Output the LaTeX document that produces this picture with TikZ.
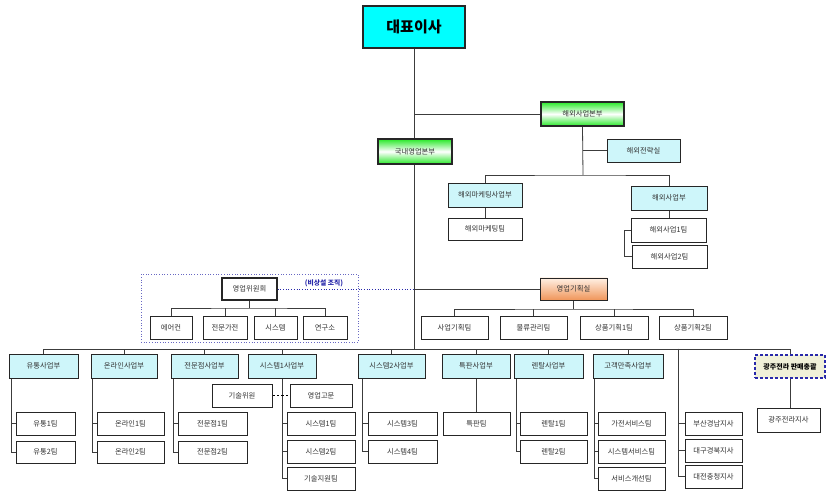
\documentclass[tikz,border=0pt]{standalone}
\usepackage{fontspec}
\setmainfont{Noto Sans CJK KR}
\usetikzlibrary{backgrounds,calc}
\definecolor{ceocyan}{RGB}{0,255,255}
\definecolor{lcyan}{RGB}{206,246,250}
\definecolor{lgreen}{RGB}{40,232,40}
\definecolor{lorange}{RGB}{240,150,90}
\definecolor{lpeach}{RGB}{255,240,228}
\definecolor{lbeige}{RGB}{240,240,216}
\definecolor{navy}{RGB}{40,40,170}
\definecolor{linec}{RGB}{60,60,60}
\definecolor{textc}{RGB}{50,50,50}
\tikzset{
  orgbase/.style={draw=black!85, line width=0.9pt, inner sep=0pt, font=\fontsize{7.3}{8}\selectfont, text=textc},
  plainbox/.style={orgbase, fill=white},
  cyanbox/.style={orgbase, fill=lcyan},
  ceobox/.style={orgbase, fill=ceocyan, line width=1.3pt, text=black, font=\fontsize{15}{17}\selectfont\bfseries},
  greenbox/.style={orgbase, line width=1.3pt, top color=lgreen, bottom color=lgreen, middle color=white},
  orangebox/.style={orgbase, top color=lpeach, bottom color=lorange},
  thickbox/.style={orgbase, fill=white, line width=1.3pt},
  dashbox/.style={orgbase, fill=lbeige, draw=navy, line width=1.2pt, dash pattern=on 3pt off 2pt, text=black, font=\fontsize{7}{8}\selectfont\bfseries},
  framebox/.style={draw=navy!70, line width=0.7pt, dotted, inner sep=0pt},
  conn/.style={draw=linec, line width=0.8pt},
  dotconn/.style={draw=navy, line width=0.7pt, dotted},
  dashconn/.style={draw=black, line width=0.8pt, dash pattern=on 2.5pt off 2pt},
  notelabel/.style={text=navy, font=\fontsize{6.8}{8}\selectfont\bfseries, inner sep=0pt}
}
\newcommand{\orgbox}[7]{\node[#1, minimum width={(#5-#4)*1pt}, minimum height={(#7-#6)*1pt}] (#2) at ({(#4+#5)/2},{(#6+#7)/2}) {#3};}
\begin{document}
\begin{tikzpicture}[x=1pt,y=-1pt]
\useasboundingbox (0,0) rectangle (831,494);
% top
\orgbox{ceobox}{ceo}{대표이사}{363}{465}{6}{48}
\orgbox{greenbox}{overseas}{해외사업본부}{541}{624}{102}{126}
\orgbox{greenbox}{domestic}{국내영업본부}{378}{452}{139}{164}
\orgbox{cyanbox}{strategy}{해외전략실}{607}{680}{139}{162}
\orgbox{cyanbox}{ovmkt}{해외마케팅사업부}{448}{522}{183}{207}
\orgbox{cyanbox}{ovbiz}{해외사업부}{631}{707}{186}{210}
\orgbox{plainbox}{ovmktteam}{해외마케팅팀}{448}{522}{218}{240}
\orgbox{plainbox}{ov1}{해외사업1팀}{631}{706}{218}{242}
\orgbox{plainbox}{ov2}{해외사업2팀}{632}{707}{245}{268}
% committee
\orgbox{framebox}{cframe}{}{141}{358}{274}{342}
\orgbox{thickbox}{comm}{영업위원회}{222}{277}{278}{300}
\node[notelabel] (note) at (324,283) {(비상설 조직)};
\orgbox{plainbox}{aircon}{에어컨}{150}{192}{316}{339}
\orgbox{plainbox}{homeapp}{전문가전}{203}{247}{316}{339}
\orgbox{plainbox}{sysc}{시스템}{254}{297}{316}{339}
\orgbox{plainbox}{lab}{연구소}{303}{347}{316}{339}
% planning
\orgbox{orangebox}{planning}{영업기획실}{540}{607}{278}{300}
\orgbox{plainbox}{p1}{사업기획팀}{421}{488}{316}{339}
\orgbox{plainbox}{p2}{물류관리팀}{500}{567}{316}{339}
\orgbox{plainbox}{p3}{상품기획1팀}{580}{648}{316}{339}
\orgbox{plainbox}{p4}{상품기획2팀}{659}{727}{316}{339}
% divisions
\orgbox{cyanbox}{d1}{유통사업부}{9}{78}{354}{378}
\orgbox{cyanbox}{d2}{온라인사업부}{91}{157}{354}{378}
\orgbox{cyanbox}{d3}{전문점사업부}{171}{238}{354}{378}
\orgbox{cyanbox}{d4}{시스템1사업부}{248}{316}{354}{378}
\orgbox{cyanbox}{d5}{시스템2사업부}{358}{425}{354}{378}
\orgbox{cyanbox}{d6}{특판사업부}{442}{510}{354}{378}
\orgbox{cyanbox}{d7}{렌탈사업부}{514}{583}{354}{378}
\orgbox{cyanbox}{d8}{고객만족사업부}{593}{663}{354}{378}
\orgbox{dashbox}{d9}{광주전라 판매총괄}{755}{825}{355}{378}
% teams
\orgbox{plainbox}{t11}{유통1팀}{16}{75}{412}{435}
\orgbox{plainbox}{t12}{유통2팀}{16}{75}{441}{463}
\orgbox{plainbox}{t21}{온라인1팀}{97}{164}{412}{435}
\orgbox{plainbox}{t22}{온라인2팀}{97}{164}{441}{463}
\orgbox{plainbox}{t31}{전문점1팀}{178}{247}{412}{435}
\orgbox{plainbox}{t32}{전문점2팀}{178}{247}{441}{463}
\orgbox{plainbox}{tech}{기술위원}{212}{272}{384}{407}
\orgbox{plainbox}{advisor}{영업고문}{290}{352}{384}{407}
\orgbox{plainbox}{t41}{시스템1팀}{287}{355}{412}{435}
\orgbox{plainbox}{t42}{시스템2팀}{287}{355}{440}{463}
\orgbox{plainbox}{t43}{기술지원팀}{287}{355}{467}{490}
\orgbox{plainbox}{t51}{시스템3팀}{368}{437}{412}{435}
\orgbox{plainbox}{t52}{시스템4팀}{368}{437}{440}{463}
\orgbox{plainbox}{t61}{특판팀}{443}{510}{412}{435}
\orgbox{plainbox}{t71}{렌탈1팀}{520}{587}{412}{435}
\orgbox{plainbox}{t72}{렌탈2팀}{520}{587}{440}{463}
\orgbox{plainbox}{t81}{가전서비스팀}{598}{665}{412}{435}
\orgbox{plainbox}{t82}{시스템서비스팀}{598}{665}{440}{463}
\orgbox{plainbox}{t83}{서비스개선팀}{598}{665}{467}{490}
\orgbox{plainbox}{b1}{부산경남지사}{685}{742}{412}{435}
\orgbox{plainbox}{b2}{대구경북지사}{685}{742}{439}{462}
\orgbox{plainbox}{b3}{대전충청지사}{685}{742}{465}{488}
\orgbox{plainbox}{gj}{광주전라지사}{757}{820}{408}{432}
% coordinates
\coordinate (bus) at (415,349);
\coordinate (ovbus) at (583,175);
\coordinate (cbus) at (250,308);
\coordinate (pbus) at (574,309);
\coordinate (br) at (678,349);
\begin{scope}[on background layer]
\fill[white] (0,0) rectangle (831,494);
\draw[conn] (ceo.south) -- (ceo.south |- bus);
\draw[conn] (ceo.south |- overseas.west) -- (overseas.west);
\draw[conn] (overseas.south) -- (ovbus);
\draw[conn] (overseas.south |- strategy.west) -- (strategy.west);
\draw[conn] (ovmkt.north) |- (ovbus) -| (ovbiz.north);
\draw[conn] (ovmkt.south) -- (ovmktteam.north);
\draw[conn] (ovbiz.south) -- (ovbiz.south |- ov1.north);
\draw[conn] (ov1.west) -- ++(-6,0) |- (ov2.west);
% committee
\draw[dotconn] (comm.east) -- (ceo.south |- comm.east);
\draw[conn] (ceo.south |- planning.west) -- (planning.west);
\draw[conn] (aircon.north) |- (cbus) -| (lab.north);
\draw[conn] (homeapp.north) -- (homeapp.north |- cbus);
\draw[conn] (sysc.north) -- (sysc.north |- cbus);
\draw[conn] (comm.south) -- (comm.south |- cbus);
% planning
\draw[conn] (p1.north) |- (pbus) -| (p4.north);
\draw[conn] (p2.north) -- (p2.north |- pbus);
\draw[conn] (p3.north) -- (p3.north |- pbus);
\draw[conn] (planning.south) -- (planning.south |- pbus);
% main bus
\draw[conn] (d1.north |- bus) -- (d9.north |- bus);
\foreach \d in {d1,d2,d3,d4,d5,d6,d7,d8,d9}{\draw[conn] (\d.north) -- (\d.north |- bus);}
% division children
\draw[conn] ($(d1.south west)+(3,0)$) |- (t12.west);
\draw[conn] ($(d1.south west)+(3,0)$) |- (t11.west);
\draw[conn] ($(d2.south west)+(2,0)$) |- (t22.west);
\draw[conn] ($(d2.south west)+(2,0)$) |- (t21.west);
\draw[conn] ($(d3.south west)+(3,0)$) |- (t32.west);
\draw[conn] ($(d3.south west)+(3,0)$) |- (t31.west);
\draw[conn] (d4.south) |- (t43.west);
\draw[conn] (d4.south) |- (t42.west);
\draw[conn] (d4.south) |- (t41.west);
\draw[dashconn] (tech.east) -- (advisor.west);
\draw[conn] ($(d5.south west)+(5,0)$) |- (t52.west);
\draw[conn] ($(d5.south west)+(5,0)$) |- (t51.west);
\draw[conn] (d6.south) -- (d6.south |- t61.north);
\draw[conn] ($(d7.south west)+(3,0)$) |- (t72.west);
\draw[conn] ($(d7.south west)+(3,0)$) |- (t71.west);
\draw[conn] ($(d8.south west)+(2,0)$) |- (t83.west);
\draw[conn] ($(d8.south west)+(2,0)$) |- (t82.west);
\draw[conn] ($(d8.south west)+(2,0)$) |- (t81.west);
\draw[conn] (br) |- (b3.west);
\draw[conn] (br) |- (b2.west);
\draw[conn] (br) |- (b1.west);
\draw[conn] (d9.south) -- (d9.south |- gj.north);
\end{scope}
\end{tikzpicture}
\end{document}
